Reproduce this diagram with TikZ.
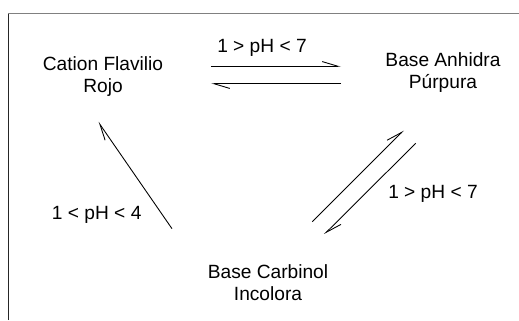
\documentclass[tikz,border=0pt]{standalone}
\usepackage{fontspec}
\setmainfont{Liberation Sans}
\usetikzlibrary{arrows.meta}
\usetikzlibrary{positioning}

\tikzset{
	estado/.style={align=center, font=\fontsize{10.9}{12.5}\selectfont},
	etiqueta/.style={font=\fontsize{10.9}{12.5}\selectfont},
	reaccion/.style={line width=0.5pt, -{Straight Barb[harpoon, length=9pt, width=5.4pt]}},
	marco/.style={line width=0.8pt}
}

\begin{document}
\begin{tikzpicture}
				
					\useasboundingbox (0,0) rectangle (10.38,6.4);
					\draw[marco, gray] (0.166,6.126) -- (10.38,6.126);
					\draw[marco, black!85] (0.166,0) -- (0.166,6.126);
					
					\node[estado] (flavilio) at (2.06,4.86) {Cation Flavilio\\Rojo};
					\node[estado] (anhidra) at (8.86,4.95) {Base Anhidra\\Púrpura};
					\node[estado] (carbinol) at (5.36,0.744) {Base Carbinol\\Incolora};
					
					\coordinate (a1) at (4.22,5.074);
					\coordinate (a2) at (6.82,5.074);
					\coordinate (b1) at (6.82,4.726);
					\coordinate (b2) at (4.22,4.726);
					\coordinate (c1) at (6.246,1.966);
					\coordinate (c2) at (8.074,3.794);
					\coordinate (d1) at (8.314,3.534);
					\coordinate (d2) at (6.486,1.714);
					\coordinate (e1) at (3.44,1.826);
					\coordinate (e2) at (1.966,3.96);
					
					\draw[reaccion] (a1) -- (a2);
					\draw[reaccion] (b1) -- (b2);
					\draw[reaccion] (c1) -- (c2);
					\draw[reaccion] (d1) -- (d2);
					\draw[reaccion] (e1) -- (e2);
					
					\node[etiqueta] (ph1) at (5.24,5.44) {1 > pH < 7};
					\node[etiqueta] (ph2) at (8.66,2.52) {1 > pH < 7};
					\node[etiqueta] (ph3) at (1.934,2.1) {1 < pH < 4};

				\end{tikzpicture}
\end{document}
